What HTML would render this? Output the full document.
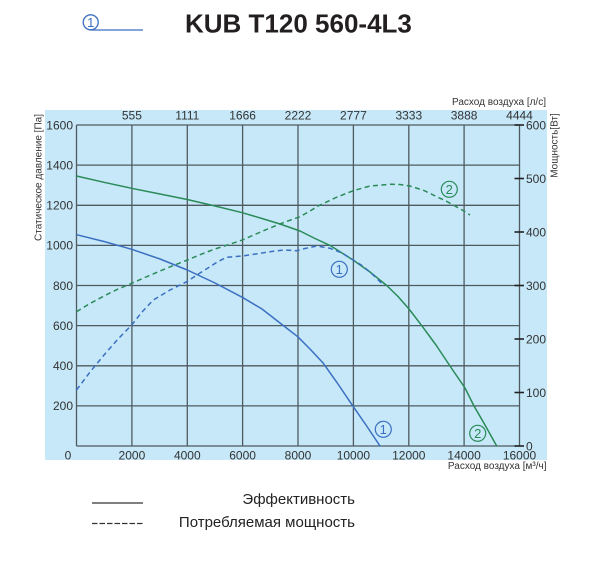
<!DOCTYPE html>
<html>
<head>
<meta charset="utf-8">
<style>
html,body{margin:0;padding:0;background:#fff;}
svg{display:block;}
text{font-family:"Liberation Sans",Arial,sans-serif;}
</style>
</head>
<body>
<svg width="600" height="563" viewBox="0 0 600 563" xmlns="http://www.w3.org/2000/svg">
  <!-- Title -->
  <circle cx="90.7" cy="22.3" r="7.5" fill="none" stroke="#3b6fc2" stroke-width="1.3"/>
  <text x="90.7" y="27" font-size="13" fill="#3b6fc2" text-anchor="middle">1</text>
  <line x1="90" y1="30" x2="143" y2="30" stroke="#3b6fc2" stroke-width="1.2"/>
  <text x="185" y="32.5" font-size="26" font-weight="bold" fill="#231f20">KUB T120 560-4L3</text>

  <!-- Background -->
  <rect x="45" y="110" width="502" height="350" fill="#c6e8f8"/>

  <!-- Grid -->
  <g stroke="#4f5a60" stroke-width="1.3" fill="none">
    <line x1="76.5" y1="125" x2="76.5" y2="446"/>
    <line x1="131.9" y1="125" x2="131.9" y2="446"/>
    <line x1="187.3" y1="125" x2="187.3" y2="446"/>
    <line x1="242.6" y1="125" x2="242.6" y2="446"/>
    <line x1="298" y1="125" x2="298" y2="446"/>
    <line x1="353.4" y1="125" x2="353.4" y2="446"/>
    <line x1="408.8" y1="125" x2="408.8" y2="446"/>
    <line x1="464.1" y1="125" x2="464.1" y2="446"/>
    <line x1="519.5" y1="125" x2="519.5" y2="446"/>
    <line x1="76.5" y1="125" x2="519.5" y2="125"/>
    <line x1="76.5" y1="165.1" x2="519.5" y2="165.1"/>
    <line x1="76.5" y1="205.3" x2="519.5" y2="205.3"/>
    <line x1="76.5" y1="245.4" x2="519.5" y2="245.4"/>
    <line x1="76.5" y1="285.5" x2="519.5" y2="285.5"/>
    <line x1="76.5" y1="325.6" x2="519.5" y2="325.6"/>
    <line x1="76.5" y1="365.8" x2="519.5" y2="365.8"/>
    <line x1="76.5" y1="405.9" x2="519.5" y2="405.9"/>
    <line x1="76.5" y1="446" x2="519.5" y2="446"/>
  </g>
  <!-- Right axis ticks -->
  <g stroke="#222" stroke-width="1.6">
    <line x1="514.5" y1="125" x2="524" y2="125"/>
    <line x1="514.5" y1="178.5" x2="524" y2="178.5"/>
    <line x1="514.5" y1="232" x2="524" y2="232"/>
    <line x1="514.5" y1="285.5" x2="524" y2="285.5"/>
    <line x1="514.5" y1="339" x2="524" y2="339"/>
    <line x1="514.5" y1="392.5" x2="524" y2="392.5"/>
    <line x1="514.5" y1="446" x2="524" y2="446"/>
  </g>

  <!-- Curves -->
  <g fill="none" stroke-width="1.5" stroke-linejoin="round" stroke-linecap="round">
    <!-- green solid -->
    <polyline stroke="#2a8a58" points="76.5,176 104,182.3 131.7,188.3 160,194 187.3,199.5 215,206 242.3,212.7 262,218.5 280,224 300,231 315,238.5 330,245.4 353,260 370,272 386.7,285.5 398,296.5 409,309 421.7,325.6 436,345 450,366 465,388 474,406 485,425 496.7,446"/>
    <!-- blue solid -->
    <polyline stroke="#3b6fc2" points="76.5,234.7 104,241.5 131.7,249.3 160,259 187.3,270 215,283 242.3,297.3 262,309 280,323 297.7,336.7 310,349 323.3,363.3 338,384 353.3,406.7 366,425 380,446"/>
    <!-- green dashed -->
    <polyline stroke="#2a8a58" stroke-dasharray="5,3.5" stroke-linecap="butt" points="76.5,311.7 90,303.5 104,296 117,289.5 131.7,283.3 146,277 160,271 174,265.3 187.3,260 201,254.3 215,249 229,244.5 242.3,240 256,234 270,228 285,222 300,216.7 310,211 320,205 336,197.5 353.3,190.7 370,186 390,184.3 400,184.5 410,186 424,190.5 436.7,196.7 446,201 455,206 463,210.5 470,215"/>
    <!-- blue dashed -->
    <polyline stroke="#3b6fc2" stroke-dasharray="5,3.5" stroke-linecap="butt" points="76.5,390 90,372 104,355 118,339 131.7,325 142,312 153.3,300 170,290 186.7,281.7 200,273 210,266.7 218,261.5 226.7,257.3 242.3,256 256,254 270,251.7 283.3,250 296.7,250.7 305,248.5 316.7,246 330,248.3 342,253 353.3,260 362,265.5 370,272 381.7,283.3"/>
  </g>

  <!-- Curve labels -->
  <g fill="none" stroke-width="1.2">
    <circle cx="339.3" cy="269.3" r="8" stroke="#3b6fc2"/>
    <circle cx="383.3" cy="429.3" r="8" stroke="#3b6fc2"/>
    <circle cx="449.3" cy="189.3" r="8" stroke="#2a8a58"/>
    <circle cx="477.7" cy="433.3" r="8" stroke="#2a8a58"/>
  </g>
  <g font-size="13" text-anchor="middle">
    <text x="339.3" y="274" fill="#3b6fc2">1</text>
    <text x="383.3" y="434" fill="#3b6fc2">1</text>
    <text x="449.3" y="194" fill="#2a8a58">2</text>
    <text x="477.7" y="438" fill="#2a8a58">2</text>
  </g>

  <!-- Left axis labels -->
  <g font-size="12" fill="#333" text-anchor="end">
    <text x="73" y="129.3">1600</text>
    <text x="73" y="169.4">1400</text>
    <text x="73" y="209.6">1200</text>
    <text x="73" y="249.7">1000</text>
    <text x="73" y="289.8">800</text>
    <text x="73" y="329.9">600</text>
    <text x="73" y="370.1">400</text>
    <text x="73" y="410.2">200</text>
  </g>
  <!-- Right axis labels -->
  <g font-size="12" fill="#333" text-anchor="start">
    <text x="526" y="129.3">600</text>
    <text x="526" y="182.8">500</text>
    <text x="526" y="236.3">400</text>
    <text x="526" y="289.8">300</text>
    <text x="526" y="343.3">200</text>
    <text x="526" y="396.8">100</text>
    <text x="526" y="450.3">0</text>
  </g>
  <!-- Bottom axis labels -->
  <g font-size="12" fill="#333" text-anchor="middle">
    <text x="68" y="459.5">0</text>
    <text x="131.9" y="459.5">2000</text>
    <text x="187.3" y="459.5">4000</text>
    <text x="242.6" y="459.5">6000</text>
    <text x="298" y="459.5">8000</text>
    <text x="353.4" y="459.5">10000</text>
    <text x="408.8" y="459.5">12000</text>
    <text x="464.1" y="459.5">14000</text>
    <text x="519.5" y="459.5">16000</text>
  </g>
  <!-- Top axis labels -->
  <g font-size="12" fill="#333" text-anchor="middle">
    <text x="131.9" y="119.5">555</text>
    <text x="187.3" y="119.5">1111</text>
    <text x="242.6" y="119.5">1666</text>
    <text x="298" y="119.5">2222</text>
    <text x="353.4" y="119.5">2777</text>
    <text x="408.8" y="119.5">3333</text>
    <text x="464.1" y="119.5">3888</text>
    <text x="519.5" y="119.5">4444</text>
  </g>

  <!-- Axis titles -->
  <text x="546" y="105" font-size="10" fill="#333" text-anchor="end">Расход воздуха [л/с]</text>
  <text x="546.5" y="469" font-size="10" fill="#333" text-anchor="end">Расход воздуха [м³/ч]</text>
  <text transform="translate(41.5,177.5) rotate(-90)" font-size="10" fill="#333" text-anchor="middle">Статическое давление [Па]</text>
  <text transform="translate(557.5,145.5) rotate(-90)" font-size="10" fill="#333" text-anchor="middle">Мощность[Вт]</text>

  <!-- Legend -->
  <line x1="92" y1="503" x2="143" y2="503" stroke="#333" stroke-width="1.2"/>
  <line x1="92" y1="523.5" x2="143" y2="523.5" stroke="#333" stroke-width="1.2" stroke-dasharray="5.5,2"/>
  <text x="355" y="504" font-size="15" fill="#222" text-anchor="end">Эффективность</text>
  <text x="355" y="527" font-size="15" fill="#222" text-anchor="end">Потребляемая мощность</text>
</svg>
</body>
</html>
